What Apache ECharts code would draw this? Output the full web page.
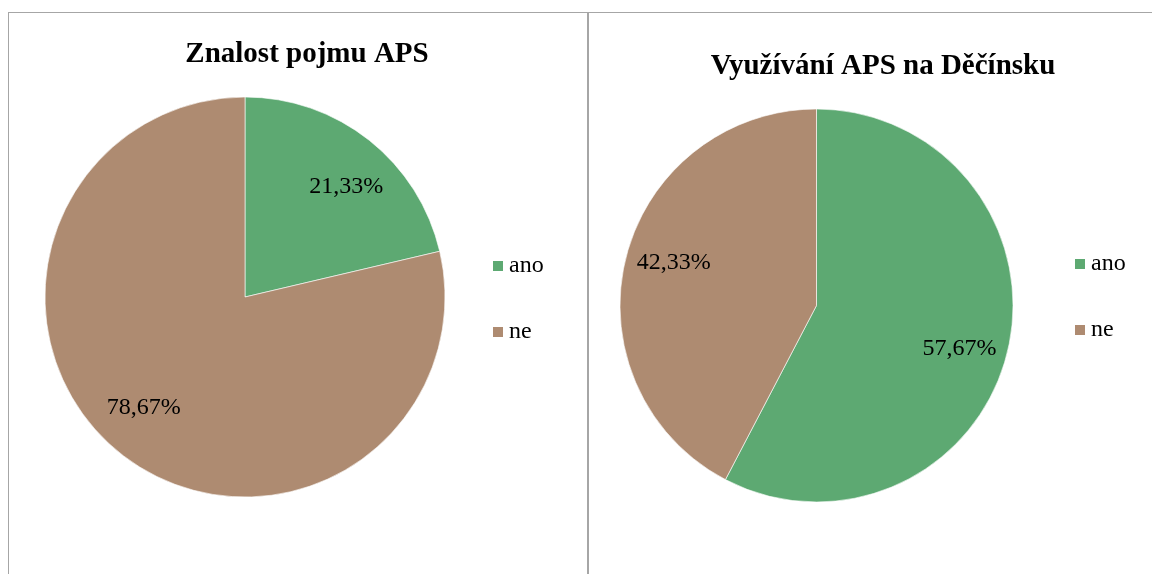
<!DOCTYPE html>
<html style="height: 100%">

<head>
    <meta charset="utf-8">
    <title>APS</title>
    <style>
        html, body {
            margin: 0;
            padding: 0;
            background: #fff;
        }

        #container {
            width: 1152px;
            height: 574px;
        }
    </style>
</head>

<body>
    <div id="container"></div>
</body>
<script src="https://cdn.jsdelivr.net/npm/echarts@6/dist/echarts.min.js"></script>
<script type="text/javascript">
    // data
    var categories = ['ano', 'ne'];
    var znalostValues = [21.33, 78.67];      // Znalost pojmu APS
    var vyuzivaniValues = [57.67, 42.33];    // Využívání APS na Děčínsku
    var titles = ['Znalost pojmu APS', 'Využívání APS na Děčínsku'];

    var colors = ['#5DA972', '#AE8B71'];
    var serif = 'Liberation Serif';

    function toData(values) {
        return categories.map(function (name, i) {
            return { name: name, value: values[i], itemStyle: { color: colors[i] } };
        });
    }

    function pct(p) {
        return p.value.toFixed(2).replace('.', ',') + '%';
    }

    // pie (no labels) + transparent ring on top just to place the labels ~3/4 radius like Excel
    function pieSeries(values, center, r, inner, labelStart) {
        return [{
            type: 'pie',
            center: center,
            radius: [0, r],
            startAngle: 90,
            clockwise: true,
            data: toData(values),
            label: { show: false },
            labelLine: { show: false },
            itemStyle: { borderColor: '#fff', borderWidth: 0.6 },
            emphasis: { scale: false },
            animation: false
        }, {
            type: 'pie',
            silent: true,
            center: center,
            radius: [Math.round(r * inner), r],
            startAngle: labelStart,
            clockwise: true,
            data: categories.map(function (name, i) {
                return { name: name, value: values[i], itemStyle: { color: 'rgba(0,0,0,0)' } };
            }),
            label: {
                show: true,
                position: 'inside',
                formatter: pct,
                color: '#000',
                fontFamily: serif,
                fontSize: 24
            },
            labelLine: { show: false },
            animation: false
        }];
    }

    function legendAt(left, top) {
        return {
            orient: 'vertical',
            left: left,
            top: top,
            icon: 'rect',
            itemWidth: 12,
            itemHeight: 12,
            itemGap: 42,
            selectedMode: false,
            textStyle: { fontFamily: serif, fontSize: 24, color: '#000' },
            data: categories.map(function (name, i) {
                return { name: name, itemStyle: { color: colors[i] } };
            })
        };
    }

    var dom = document.getElementById("container");
    var myChart = echarts.init(dom);

    myChart.setOption({
        backgroundColor: '#fff',
        title: [{
            text: titles[0],
            left: 302,
            top: 35,
            textAlign: 'center',
            textStyle: { fontFamily: serif, fontWeight: 'bold', fontSize: 29, color: '#000' }
        }, {
            text: titles[1],
            left: 878,
            top: 47,
            textAlign: 'center',
            textStyle: { fontFamily: serif, fontWeight: 'bold', fontSize: 29, color: '#000' }
        }],
        legend: [legendAt(486, 249), legendAt(1068, 247)],
        graphic: [
            { type: 'line', shape: { x1: 8, y1: 12.5, x2: 1152, y2: 12.5 }, style: { stroke: '#a6a6a6', lineWidth: 1 } },
            { type: 'line', shape: { x1: 8.5, y1: 12, x2: 8.5, y2: 574 }, style: { stroke: '#a6a6a6', lineWidth: 1 } },
            { type: 'line', shape: { x1: 588, y1: 12, x2: 588, y2: 574 }, style: { stroke: '#a6a6a6', lineWidth: 2 } }
        ],
        series: [].concat(
            pieSeries(znalostValues, [245, 297], 200, 0.47, 86),
            pieSeries(vyuzivaniValues, [816.5, 305.5], 196.5, 0.49, 87)
        )
    });
</script>

</html>
